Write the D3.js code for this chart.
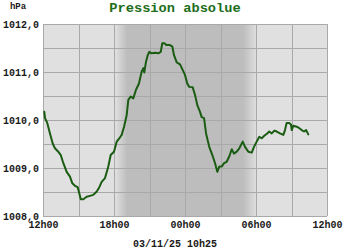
<!DOCTYPE html>
<html>
<head>
<meta charset="utf-8">
<script src="https://cdn.jsdelivr.net/npm/d3@7"></script>
<style>
html,body{margin:0;padding:0;background:#fff;}
svg{display:block;}
</style>
</head>
<body>
<svg id="chart" width="350" height="250"></svg>
<script>
// Hours since 12h00 on 02/11/25
const hours = [0.11,0.17,0.36,0.59,0.82,1.01,1.29,1.50,1.72,2.00,2.28,2.48,2.70,2.93,3.07,3.19,3.41,3.69,3.97,4.25,4.54,4.76,4.96,5.24,5.52,5.72,6.00,6.23,6.51,6.65,6.85,7.07,7.21,7.41,7.63,7.86,8.11,8.34,8.48,8.56,8.70,8.85,8.98,9.19,9.47,9.74,9.95,10.08,10.25,10.45,10.73,10.93,11.07,11.30,11.58,11.81,12.00,12.19,12.36,12.65,12.85,13.04,13.27,13.41,13.61,13.78,14.05,14.31,14.54,14.73,14.90,15.10,15.30,15.52,15.74,15.95,16.14,16.37,16.59,16.88,17.07,17.35,17.64,17.83,18.06,18.28,18.48,18.70,18.95,19.12,19.33,19.55,19.75,20.03,20.31,20.45,20.59,20.81,20.96,21.02,21.15,21.44,21.66,21.86,22.06,22.23,22.42];
const pressure = [1010.17,1010.04,1009.94,1009.72,1009.51,1009.41,1009.34,1009.27,1009.10,1008.92,1008.82,1008.68,1008.63,1008.60,1008.47,1008.35,1008.35,1008.40,1008.42,1008.44,1008.51,1008.60,1008.71,1008.79,1009.03,1009.27,1009.34,1009.55,1009.64,1009.69,1009.86,1010.10,1010.42,1010.49,1010.45,1010.63,1010.76,1011.01,1011.08,1010.99,1011.21,1011.35,1011.42,1011.39,1011.40,1011.39,1011.42,1011.60,1011.60,1011.56,1011.56,1011.53,1011.35,1011.20,1011.16,1011.04,1010.94,1010.76,1010.69,1010.68,1010.52,1010.31,1010.17,1010.06,1010.04,1009.72,1009.44,1009.27,1009.10,1008.92,1009.03,1009.03,1009.10,1009.13,1009.24,1009.39,1009.30,1009.34,1009.41,1009.55,1009.44,1009.34,1009.32,1009.44,1009.55,1009.65,1009.62,1009.67,1009.72,1009.76,1009.72,1009.78,1009.76,1009.72,1009.69,1009.79,1009.94,1009.94,1009.90,1009.79,1009.88,1009.86,1009.83,1009.79,1009.76,1009.79,1009.70];
const xTickValues = [0,6,12,18,24];
const xTickLabels = ["12h00","18h00","00h00","06h00","12h00"];
const yTickValues = [1008,1009,1010,1011,1012];
const yTickLabels = ["1008,0","1009,0","1010,0","1011,0","1012,0"];
const nightBand = [6.08, 7.1, 16.9, 18.1]; // dusk start, full night, dawn start, full day
const title = "Pression absolue";
const unitLabel = "hPa";
const dateLabel = "03/11/25 10h25";

const svg = d3.select("#chart");
const m = {left:43, right:23, top:24, bottom:34};
const W = 350, H = 250;
const x = d3.scaleLinear().domain([0,24]).range([m.left, W-m.right]);
const y = d3.scaleLinear().domain([1008,1012]).range([H-m.bottom, m.top]);

const light = "#e0e0e0", dark = "#bdbdbd";
const defs = svg.append("defs");
const grad = defs.append("linearGradient").attr("id","night")
  .attr("gradientUnits","userSpaceOnUse")
  .attr("x1", x(0)).attr("x2", x(24)).attr("y1",0).attr("y2",0);
const frac = v => (x(v)-x(0))/(x(24)-x(0));
[[0,light],[nightBand[0],light],[nightBand[1],dark],[nightBand[2],dark],[nightBand[3],light],[24,light]]
  .forEach(([v,c]) => grad.append("stop").attr("offset", frac(v)).attr("stop-color", c));

svg.append("rect").attr("x", x(0)).attr("y", y(1012))
  .attr("width", x(24)-x(0)).attr("height", y(1008)-y(1012))
  .attr("fill","url(#night)");

// grid
const gridColor = "#a9a9a9";
const g = svg.append("g");
d3.range(0,25,3).forEach(h => g.append("line")
  .attr("x1", Math.round(x(h))+0.5).attr("x2", Math.round(x(h))+0.5)
  .attr("y1", y(1012)).attr("y2", y(1008)).attr("stroke", gridColor).attr("stroke-width",1));
d3.range(1008,1012.01,0.5).forEach(p => g.append("line")
  .attr("x1", x(0)).attr("x2", x(24))
  .attr("y1", Math.round(y(p))+0.5).attr("y2", Math.round(y(p))+0.5)
  .attr("stroke", gridColor).attr("stroke-width",1));

// line
const data = hours.map((h,i) => ({h, p: pressure[i]}));
svg.append("path").datum(data)
  .attr("d", d3.line().x(d => x(d.h)).y(d => y(d.p)))
  .attr("fill","none").attr("stroke","#1a5c12").attr("stroke-width",2)
  .attr("stroke-linejoin","round").attr("stroke-linecap","round");

const font = "'Liberation Mono','Courier New',monospace";

// axes
const xAxis = d3.axisBottom(x).tickValues(xTickValues)
  .tickFormat((d,i) => xTickLabels[i]).tickSize(0).tickPadding(5);
const xa = svg.append("g").attr("transform", `translate(0,${y(1008)})`).call(xAxis);
xa.select(".domain").remove();
xa.selectAll("text").attr("font-family", font).attr("font-weight","bold")
  .attr("font-size","10px").attr("fill","#1a1a1a");

const yAxis = d3.axisLeft(y).tickValues(yTickValues)
  .tickFormat((d,i) => yTickLabels[i]).tickSize(0).tickPadding(4);
const ya = svg.append("g").attr("transform", `translate(${x(0)},0)`).call(yAxis);
ya.select(".domain").remove();
ya.selectAll("text").attr("font-family", font).attr("font-weight","bold")
  .attr("font-size","10px").attr("fill","#1a1a1a");

svg.append("text").attr("x", 175).attr("y", 12).attr("text-anchor","middle")
  .attr("font-family", font).attr("font-weight","bold").attr("font-size","13.7px")
  .attr("fill","#1e6e1a").text(title);
svg.append("text").attr("x", 18).attr("y", 9).attr("text-anchor","middle")
  .attr("font-family", font).attr("font-weight","bold").attr("font-size","9px")
  .attr("fill","#1a1a1a").text(unitLabel);
svg.append("text").attr("x", 175).attr("y", 247).attr("text-anchor","middle")
  .attr("font-family", font).attr("font-weight","bold").attr("font-size","10px")
  .attr("fill","#1a1a1a").text(dateLabel);
</script>
</body>
</html>
